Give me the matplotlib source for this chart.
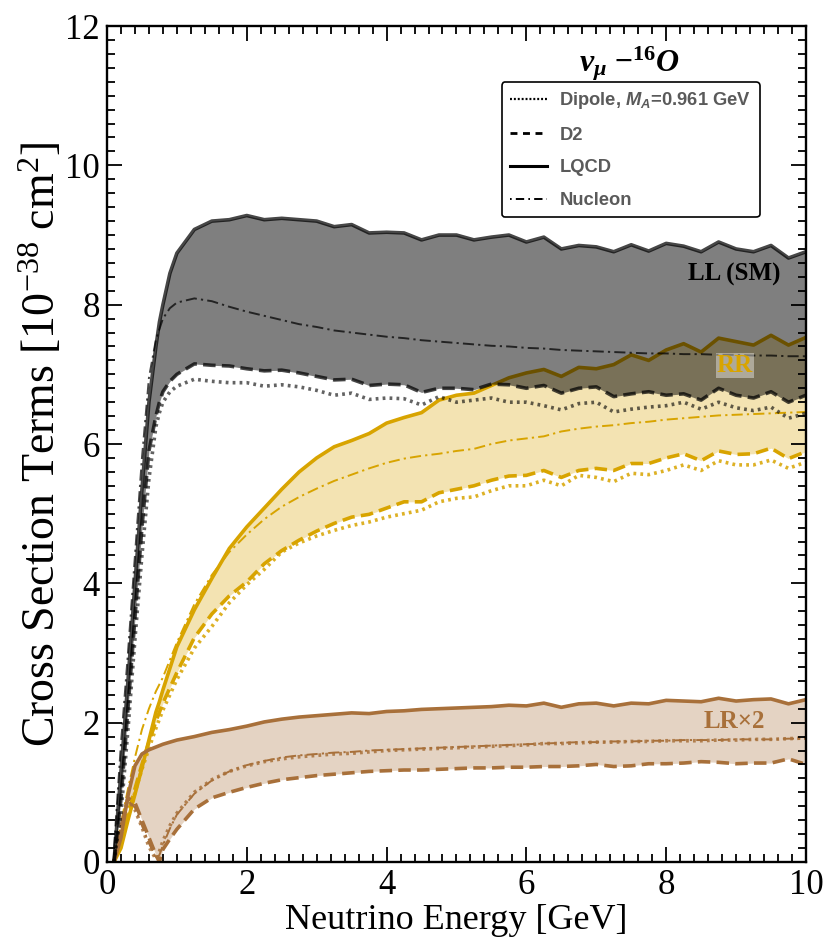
import numpy as np
import matplotlib.pyplot as plt
from matplotlib.lines import Line2D
from matplotlib.ticker import MultipleLocator

plt.rcParams['font.family'] = 'Liberation Serif'
plt.rcParams['mathtext.fontset'] = 'custom'
plt.rcParams['mathtext.rm'] = 'Liberation Serif'
plt.rcParams['mathtext.it'] = 'Liberation Serif:italic'
plt.rcParams['mathtext.bf'] = 'Liberation Serif:italic:bold'
plt.rcParams['mathtext.sf'] = 'Liberation Serif:bold'
plt.rcParams['mathtext.cal'] = 'Liberation Sans:italic:bold'
plt.rcParams['lines.scale_dashes'] = False

# neutrino energy grid [GeV]
energy = [0.1, 0.2, 0.3, 0.4, 0.5, 0.6, 0.7, 0.75, 0.8, 0.9, 1.0,
          1.25, 1.5, 1.75, 2.0, 2.25, 2.5, 2.75, 3.0, 3.25, 3.5, 3.75, 4.0, 4.25, 4.5, 4.75,
          5.0, 5.25, 5.5, 5.75, 6.0, 6.25, 6.5, 6.75, 7.0, 7.25, 7.5, 7.75, 8.0, 8.25, 8.5,
          8.75, 9.0, 9.25, 9.5, 9.75, 10.0]

# LL (SM) term
ll_lqcd = [0.0, 1.3, 2.6, 4.0, 5.35, 6.6, 7.4, 7.75, 8.0, 8.45, 8.74,
           9.08, 9.2, 9.22, 9.28, 9.22, 9.24, 9.22, 9.2, 9.12, 9.15, 9.03, 9.04, 9.03, 8.93, 9.0,
           9.0, 8.93, 8.97, 9.0, 8.9, 8.97, 8.8, 8.85, 8.83, 8.76, 8.86, 8.77, 8.88, 8.84, 8.76,
           8.9, 8.8, 8.76, 8.85, 8.67, 8.76]
ll_d2 = [0.0, 0.9, 2.2, 3.5, 4.8, 5.9, 6.4, 6.6, 6.75, 6.9, 7.0,
         7.15, 7.13, 7.12, 7.08, 7.05, 7.06, 7.02, 6.97, 6.92, 6.93, 6.84, 6.86, 6.85, 6.74, 6.8,
         6.8, 6.78, 6.86, 6.85, 6.8, 6.84, 6.73, 6.8, 6.82, 6.68, 6.72, 6.75, 6.7, 6.72, 6.63,
         6.8, 6.7, 6.66, 6.75, 6.6, 6.7]
ll_dip = [0.0, 0.7, 1.9, 3.2, 4.4, 5.5, 6.25, 6.45, 6.6, 6.75, 6.83,
          6.93, 6.9, 6.88, 6.88, 6.83, 6.85, 6.82, 6.77, 6.7, 6.73, 6.64, 6.66, 6.65, 6.56, 6.68,
          6.6, 6.63, 6.66, 6.6, 6.6, 6.55, 6.49, 6.58, 6.6, 6.46, 6.5, 6.53, 6.55, 6.6, 6.5,
          6.6, 6.52, 6.48, 6.53, 6.37, 6.44]
ll_nuc = [0.2, 1.7, 3.0, 4.4, 5.8, 6.95, 7.5, 7.65, 7.8, 7.95, 8.03,
          8.09, 8.05, 7.97, 7.9, 7.84, 7.78, 7.72, 7.68, 7.63, 7.6, 7.57, 7.54, 7.52, 7.49, 7.47,
          7.45, 7.43, 7.41, 7.4, 7.38, 7.37, 7.35, 7.34, 7.33, 7.32, 7.31, 7.3, 7.3, 7.29, 7.29,
          7.28, 7.28, 7.27, 7.27, 7.26, 7.26]

# RR term
rr_lqcd = [0.0, 0.2, 0.6, 0.97, 1.35, 1.75, 2.15, 2.3, 2.47, 2.78, 3.09,
           3.62, 4.07, 4.5, 4.81, 5.08, 5.35, 5.6, 5.8, 5.96, 6.05, 6.15, 6.3, 6.38, 6.45, 6.63,
           6.7, 6.73, 6.84, 6.95, 7.02, 7.07, 6.97, 7.1, 7.08, 7.14, 7.28, 7.2, 7.35, 7.44, 7.32,
           7.52, 7.47, 7.42, 7.56, 7.42, 7.53]
rr_d2 = [0.0, 0.3, 0.7, 1.05, 1.4, 1.72, 2.02, 2.15, 2.28, 2.5, 2.72,
         3.22, 3.56, 3.82, 4.02, 4.28, 4.47, 4.62, 4.75, 4.86, 4.95, 4.99, 5.08, 5.17, 5.17, 5.3,
         5.35, 5.4, 5.48, 5.54, 5.55, 5.62, 5.52, 5.62, 5.65, 5.62, 5.72, 5.72, 5.8, 5.86, 5.76,
         5.9, 5.85, 5.86, 5.94, 5.79, 5.89]
rr_dip = [0.0, 0.3, 0.65, 1.0, 1.33, 1.63, 1.92, 2.05, 2.18, 2.4, 2.62,
          3.07, 3.38, 3.72, 3.98, 4.2, 4.45, 4.58, 4.68, 4.76, 4.83, 4.88, 4.95, 5.0, 5.05, 5.17,
          5.22, 5.24, 5.33, 5.4, 5.4, 5.48, 5.4, 5.55, 5.52, 5.46, 5.58, 5.56, 5.62, 5.7, 5.62,
          5.76, 5.7, 5.7, 5.77, 5.65, 5.74]
rr_nuc = [0.0, 0.55, 1.05, 1.5, 1.9, 2.2, 2.45, 2.55, 2.65, 2.9, 3.15,
          3.7, 4.12, 4.45, 4.7, 4.92, 5.1, 5.24, 5.36, 5.47, 5.56, 5.65, 5.73, 5.79, 5.83, 5.86,
          5.9, 5.93, 6.0, 6.05, 6.08, 6.11, 6.18, 6.22, 6.25, 6.27, 6.3, 6.32, 6.35, 6.37, 6.39,
          6.41, 6.42, 6.43, 6.44, 6.45, 6.46]

# LR term (x2)
lr_lqcd = [0.0, 0.35, 0.95, 1.38, 1.55, 1.61, 1.65, 1.67, 1.69, 1.72, 1.75,
           1.8, 1.86, 1.9, 1.95, 2.01, 2.05, 2.08, 2.1, 2.12, 2.14, 2.13, 2.16, 2.17, 2.19, 2.2,
           2.21, 2.22, 2.23, 2.25, 2.24, 2.28, 2.22, 2.27, 2.28, 2.24, 2.28, 2.27, 2.32, 2.31, 2.3,
           2.35, 2.31, 2.33, 2.34, 2.27, 2.33]
lr_d2 = [0.0, 0.5, 0.92, 0.85, 0.6, 0.35, 0.1, 0.0, 0.18, 0.33, 0.47,
         0.76, 0.92, 1.0, 1.07, 1.13, 1.18, 1.21, 1.24, 1.26, 1.28, 1.3, 1.31, 1.32, 1.32, 1.33,
         1.34, 1.35, 1.35, 1.36, 1.36, 1.37, 1.37, 1.38, 1.4, 1.37, 1.38, 1.41, 1.41, 1.42, 1.44,
         1.43, 1.41, 1.42, 1.42, 1.48, 1.4]
lr_dip = [0.0, 0.5, 0.9, 0.75, 0.5, 0.22, 0.04, 0.15, 0.3, 0.52, 0.7,
          1.0, 1.18, 1.3, 1.38, 1.44, 1.48, 1.51, 1.53, 1.55, 1.56, 1.58, 1.6, 1.61, 1.62, 1.63,
          1.64, 1.65, 1.66, 1.67, 1.68, 1.7, 1.7, 1.71, 1.72, 1.72, 1.73, 1.73, 1.74, 1.74, 1.74,
          1.75, 1.75, 1.76, 1.76, 1.77, 1.78]
lr_nuc = [0.0, 0.48, 0.88, 0.78, 0.52, 0.27, 0.05, 0.1, 0.24, 0.48, 0.68,
          0.98, 1.17, 1.3, 1.39, 1.45, 1.5, 1.53, 1.55, 1.57, 1.58, 1.6, 1.61, 1.62, 1.63, 1.64,
          1.65, 1.66, 1.67, 1.68, 1.69, 1.7, 1.71, 1.72, 1.72, 1.73, 1.73, 1.74, 1.74, 1.75, 1.75,
          1.75, 1.76, 1.76, 1.76, 1.77, 1.77]

gold = '#d8a400'
brown = '#a8703a'

DASH = (9, 4.5)
DOT = (2, 3)
DASHDOT = (8, 3, 1.6, 3)

fig = plt.figure(figsize=(8.23, 9.47), dpi=100)
ax = fig.add_axes([0.130, 0.0898, 0.8493, 0.8827])


def draw_term(lqcd, d2, dip, nuc, color, fill_color, fill_alpha, line_alpha, z):
    ax.fill_between(energy, d2, lqcd, color=fill_color, alpha=fill_alpha, lw=0, zorder=z)
    ax.plot(energy, lqcd, color=color, alpha=line_alpha, lw=2.6, zorder=z + 0.5)
    ax.plot(energy, d2, color=color, alpha=line_alpha, lw=2.6, dashes=DASH, zorder=z + 0.5)
    ax.plot(energy, dip, color=color, alpha=line_alpha * 0.85, lw=2.6, dashes=DOT, zorder=z + 0.5)
    ax.plot(energy, nuc, color=color, alpha=line_alpha, lw=1.4, dashes=DASHDOT, zorder=z + 0.5)


draw_term(rr_lqcd, rr_d2, rr_dip, rr_nuc, gold, gold, 0.3, 1.0, 1)
draw_term(lr_lqcd, lr_d2, lr_dip, lr_nuc, brown, brown, 0.3, 1.0, 1)
draw_term(ll_lqcd, ll_d2, ll_dip, ll_nuc, 'black', 'black', 0.5, 0.72, 3)

ax.text(8.97, 8.44, 'LL (SM)', fontsize=18, fontweight='bold', ha='center', va='center', zorder=6)
ax.text(8.98, 7.13, 'RR', fontsize=18, fontweight='bold', color=gold, ha='center', va='center',
        zorder=6, bbox=dict(facecolor='white', alpha=0.4, edgecolor='none', pad=0.5))
ax.text(8.97, 2.02, 'LR\u00d72', fontsize=18, fontweight='bold', color=brown,
        ha='center', va='center', zorder=6)

ax.text(0.748, 0.955, r'$\mathbf{\nu_{\mu}}\;\mathbf{-}{}^{\mathsf{16}}\mathbf{O}$',
        transform=ax.transAxes, fontsize=23, ha='center', va='center')

handles = [
    Line2D([], [], color='black', lw=1.6, dashes=(1.4, 1.4)),
    Line2D([], [], color='black', lw=2.0, dashes=(5, 4)),
    Line2D([], [], color='black', lw=2.2),
    Line2D([], [], color='black', lw=1.4, dashes=(1.2, 3, 6, 3)),
]
labels = [r'Dipole, $\mathcal{M_A}$=0.961 GeV', 'D2', 'LQCD', 'Nucleon']
leg = ax.legend(handles, labels, loc='upper right', bbox_to_anchor=(0.934, 0.933),
                borderaxespad=0, fancybox=True, framealpha=1, edgecolor='black',
                prop={'family': 'Liberation Sans', 'weight': 'bold', 'size': 13.2},
                labelcolor='#5a5a5a', handlelength=2.0, handletextpad=0.7,
                labelspacing=0.85, borderpad=0.45)
leg.get_frame().set_linewidth(1.2)
leg.set_zorder(7)

ax.set_xlim(0, 10)
ax.set_ylim(0, 12)
ax.xaxis.set_major_locator(MultipleLocator(2))
ax.xaxis.set_minor_locator(MultipleLocator(0.2))
ax.yaxis.set_major_locator(MultipleLocator(2))
ax.yaxis.set_minor_locator(MultipleLocator(0.2))
ax.tick_params(which='both', direction='in', top=True, right=True, width=1.3)
ax.tick_params(which='major', length=11, labelsize=25)
ax.tick_params(axis='x', which='major', pad=5)
ax.tick_params(axis='y', which='major', pad=5)
ax.tick_params(which='minor', length=6)
for s in ax.spines.values():
    s.set_linewidth(1.7)
    s.set_zorder(8)

ax.set_xlabel('Neutrino Energy [GeV]', fontsize=26)
ax.xaxis.set_label_coords(0.5, -0.05)
ax.set_ylabel(r'Cross Section Terms [$10^{-38}$ cm$^2$]', fontsize=33)
ax.yaxis.set_label_coords(-0.06, 0.5)

fig.savefig('out.png', dpi=100)
